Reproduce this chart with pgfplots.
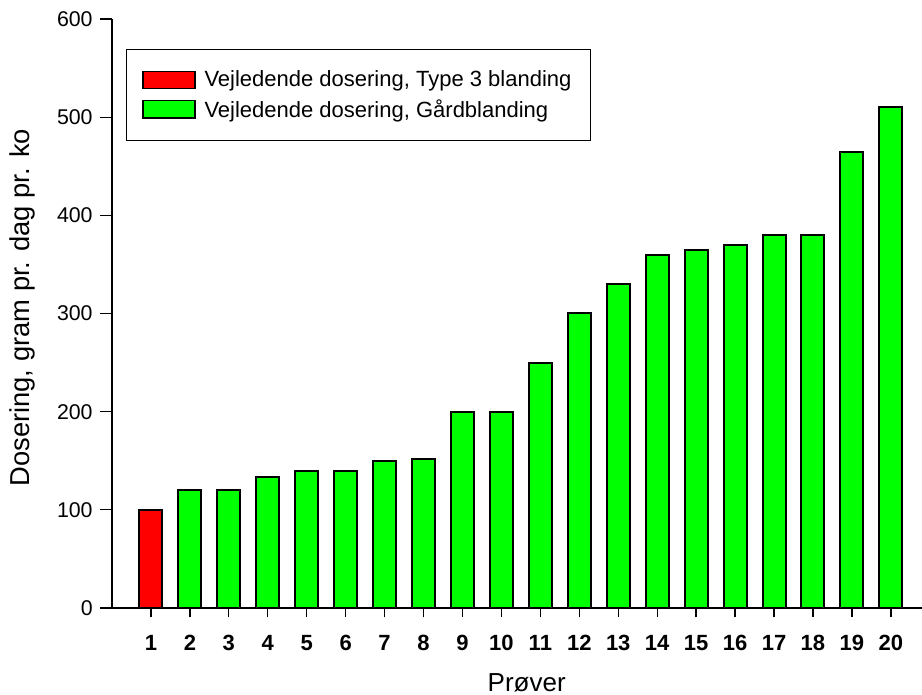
\documentclass[border=0pt]{standalone}
\usepackage{fontspec}
\setmainfont{Liberation Sans}
\usepackage{pgfplots}
\pgfplotsset{compat=1.18}

\definecolor{barred}{RGB}{255,0,0}
\definecolor{bargreen}{RGB}{0,255,0}

\begin{document}
\begin{tikzpicture}
\begin{axis}[
  scale only axis,
  width=607.5pt, height=441.75pt,
  xmin=0, xmax=20.8, ymin=0, ymax=600,
  axis x line=bottom, axis y line=left,
  axis line style={-, line width=1pt, black},
  tick align=outside, major tick length=7pt,
  tick style={line width=1pt, black},
  ytick style={/pgfplots/major tick length=9pt},
  xtick={1,...,20}, ytick={0,100,...,600},
  /pgf/number format/assume math mode=true,
  yticklabel style={font=\fontsize{16}{19}\selectfont, xshift=-4pt},
  xticklabel style={font=\fontsize{16.5}{19}\selectfont\bfseries, yshift=-10pt},
  every axis y label/.style={at={(axis description cs:-0.111,0.51)}, rotate=90, anchor=center, font=\fontsize{20.5}{23}\selectfont},
  every axis x label/.style={at={(axis description cs:0.512,-0.127)}, anchor=center, font=\fontsize{19.5}{22}\selectfont},
  xlabel={Prøver},
  ylabel={Dosering, gram pr. dag pr. ko},
  legend cell align=left,
  legend style={at={(rel axis cs:0.0169,0.949)}, anchor=north west,
    draw=black, line width=0.75pt, font=\fontsize{16.5}{19}\selectfont,
    inner xsep=12pt, inner ysep=14pt, row sep=4pt},
]
\addplot[ybar, bar width=0.59, bar shift=0pt, fill=barred, draw=black, line width=1.5pt,
  legend image code/.code={\draw[fill=barred, draw=black, line width=1pt] (0pt,-6.4pt) rectangle (39pt,6.4pt); \path (43.5pt,0pt);}]
  coordinates {(1,100)};
\addplot[ybar, bar width=0.59, bar shift=0pt, fill=bargreen, draw=black, line width=1.5pt,
  legend image code/.code={\draw[fill=bargreen, draw=black, line width=1pt] (0pt,-6.4pt) rectangle (39pt,6.4pt); \path (43.5pt,0pt);}]
  coordinates {(2,120) (3,120) (4,133) (5,140) (6,140) (7,150) (8,152) (9,200) (10,200)
    (11,250) (12,300) (13,330) (14,360) (15,365) (16,370) (17,380) (18,380) (19,465) (20,510)};
\legend{Vejledende dosering{,} Type 3 blanding, Vejledende dosering{,} Gårdblanding}
\end{axis}
\pgfresetboundingbox
\path (-84pt,-65.25pt) rectangle (607.5pt,456pt);
\end{tikzpicture}
\end{document}
